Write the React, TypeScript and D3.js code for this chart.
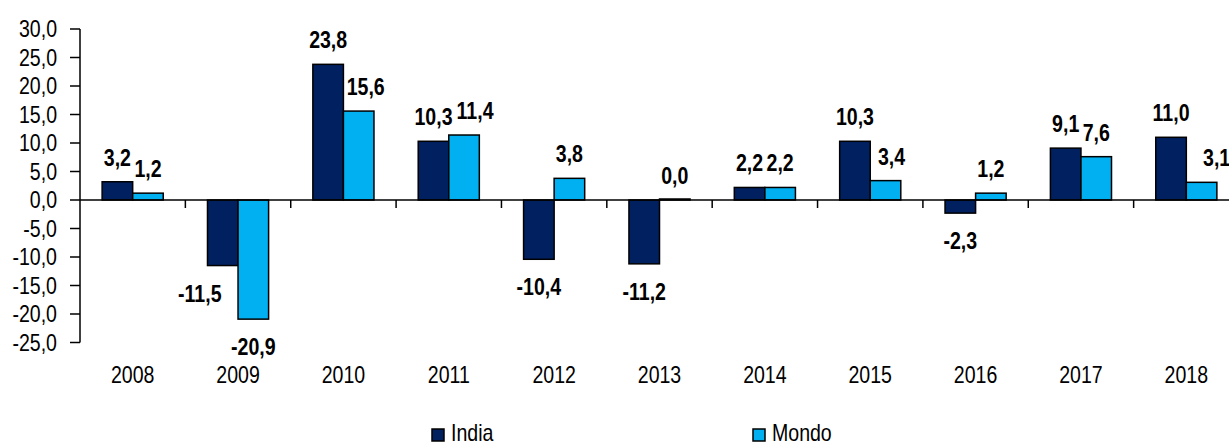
import React from "react";
import * as d3 from "d3";

const years = ["2008", "2009", "2010", "2011", "2012", "2013", "2014", "2015", "2016", "2017", "2018"];
const india = [3.2, -11.5, 23.8, 10.3, -10.4, -11.2, 2.2, 10.3, -2.3, 9.1, 11.0];
const mondo = [1.2, -20.9, 15.6, 11.4, 3.8, 0.0, 2.2, 3.4, 1.2, 7.6, 3.1];
const seriesNames = ["India", "Mondo"];
const yTicks = [30, 25, 20, 15, 10, 5, 0, -5, -10, -15, -20, -25];
// horizontal nudges of a few data labels (as placed in the original to avoid overlaps)
const labelNudge: Record<string, number> = { "India-2009": -23, "Mondo-2010": 7, "Mondo-2011": 11, "Mondo-2015": 6, "Mondo-2018": 15 };

const W = 1229;
const H = 445;
const colors: Record<string, string> = { India: "#002060", Mondo: "#00B0F0" };
const FONT = "'Liberation Sans', Arial, sans-serif";
const SX = 0.85;

const fmt = (v: number) => v.toFixed(1).replace(".", ",");

function T(props: { x: number; y: number; anchor?: string; size?: number; bold?: boolean; children: React.ReactNode }) {
  const { x, y, anchor = "start", size = 23, bold = false, children } = props;
  return (
    <text
      transform={`translate(${x},${y}) scale(${SX},1)`}
      textAnchor={anchor}
      fontSize={size}
      fontWeight={bold ? "bold" : "normal"}
      fill="#000"
    >
      {children}
    </text>
  );
}

export default function App() {
  const x0 = d3.scaleBand<string>().domain(years).range([80, 1239]).paddingInner(0.42).paddingOuter(0.21);
  const x1 = d3.scaleBand<string>().domain(seriesNames).range([0, x0.bandwidth()]);
  const y = d3.scaleLinear().domain([-25, 30]).range([342.5, 29]);
  const y0 = y(0);
  const data: Record<string, number[]> = { India: india, Mondo: mondo };
  const gap = (x0.step() - x0.bandwidth()) / 2;

  return (
    <svg width={W} height={H} style={{ position: "absolute", left: 0, top: 0, background: "#fff" }} fontFamily={FONT}>
      {/* y axis */}
      <line x1={80} x2={80} y1={y(30)} y2={y(-25)} stroke="#000" strokeWidth={1.5} />
      {yTicks.map((t) => (
        <g key={t}>
          <line x1={70} x2={80} y1={y(t)} y2={y(t)} stroke="#000" strokeWidth={1.5} />
          <T x={57} y={y(t) + 8} anchor="end">
            {fmt(t)}
          </T>
        </g>
      ))}
      {/* bars */}
      {years.map((yr, i) => (
        <g key={yr}>
          {seriesNames.map((s) => {
            const v = data[s][i];
            const bx = (x0(yr) as number) + (x1(s) as number);
            const h = Math.max(Math.abs(y(v) - y0), 1);
            const top = v >= 0 ? y0 - h : y0;
            return (
              <rect key={s} x={bx} y={top} width={x1.bandwidth()} height={h} fill={colors[s]} stroke="#000" strokeWidth={1.5} />
            );
          })}
        </g>
      ))}
      {/* zero axis */}
      <line x1={80} x2={W} y1={y0} y2={y0} stroke="#000" strokeWidth={1.5} />
      {years.slice(1).map((yr) => (
        <line key={yr} x1={(x0(yr) as number) - gap} x2={(x0(yr) as number) - gap} y1={y0} y2={y0 + 8} stroke="#000" strokeWidth={1.5} />
      ))}
      {/* labels */}
      {years.map((yr, i) => (
        <g key={yr}>
          {seriesNames.map((s) => {
            const v = data[s][i];
            const cx = (x0(yr) as number) + (x1(s) as number) + x1.bandwidth() / 2 + (labelNudge[`${s}-${yr}`] || 0);
            const ly = v >= 0 ? y(v) - 16 : y(v) + 36;
            return (
              <T key={s} x={cx} y={ly} anchor="middle" bold>
                {fmt(v)}
              </T>
            );
          })}
          <T x={(x0(yr) as number) + x0.bandwidth() / 2} y={383} anchor="middle">
            {yr}
          </T>
        </g>
      ))}
      {/* legend */}
      {seriesNames.map((s, i) => {
        const lx = i === 0 ? 432 : 753;
        return (
          <g key={s}>
            <rect x={lx} y={429} width={12} height={12} fill={colors[s]} stroke="#000" strokeWidth={1.5} />
            <T x={lx + 19} y={441}>
              {s}
            </T>
          </g>
        );
      })}
    </svg>
  );
}
